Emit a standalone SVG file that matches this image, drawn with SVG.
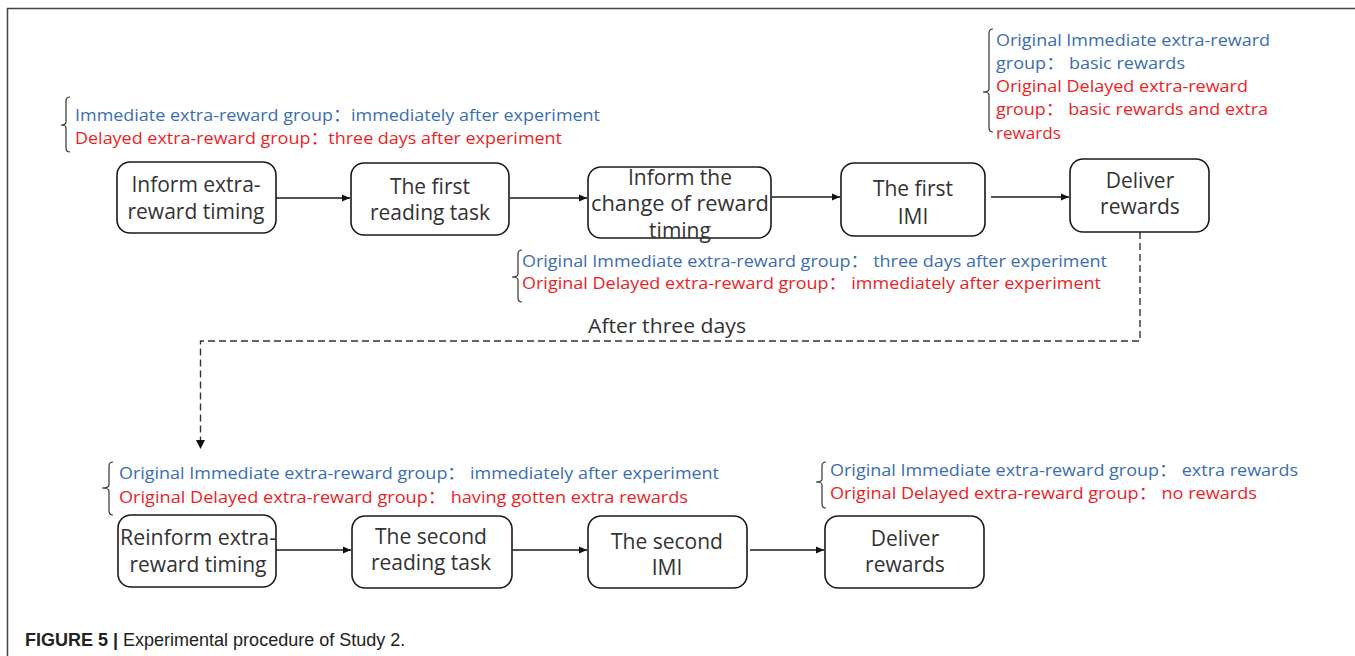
<svg xmlns="http://www.w3.org/2000/svg" width="1355" height="656" viewBox="0 0 1355 656">
<defs>
<marker id="ah" markerWidth="10" markerHeight="10" refX="9" refY="5" orient="auto" markerUnits="userSpaceOnUse">
<path d="M1,1.5 L9,5 L1,8.5 Z" fill="#111"/>
</marker>
<style>
.box{fill:#fff;stroke:#1a1a1a;stroke-width:1.6}
.bt{font-family:"Open Sans","Noto Sans",sans-serif;font-size:21px;fill:#333;text-anchor:middle}
.g{font-family:"Open Sans","Noto Sans","Noto Sans CJK SC",sans-serif;font-size:17px}
.bl{fill:#3a6db3}
.rd{fill:#ee1d25}
.br{fill:none;stroke:#333;stroke-width:1.2}
.ln{fill:none;stroke:#1a1a1a;stroke-width:1.4}
.dash{fill:none;stroke:#333;stroke-width:1.4;stroke-dasharray:7 4}
.cap{font-family:"Liberation Sans",Arial,sans-serif;font-size:18px;fill:#222}
</style>
</defs>
<rect width="1355" height="656" fill="#fff"/>
<path d="M7.5,656 V8.5 H1355" fill="none" stroke="#444" stroke-width="1.5"/>

<g id="connectors">
<line class="ln" x1="276" y1="198" x2="350" y2="198" marker-end="url(#ah)"/>
<line class="ln" x1="510" y1="198" x2="587" y2="198" marker-end="url(#ah)"/>
<line class="ln" x1="772" y1="197" x2="840" y2="197" marker-end="url(#ah)"/>
<line class="ln" x1="991" y1="197" x2="1069" y2="197" marker-end="url(#ah)"/>
<path class="dash" d="M1140,232 V341 H200.5 V440"/>
<path d="M196,440 L205,440 L200.5,449 Z" fill="#111"/>
<line class="ln" x1="276" y1="550" x2="351" y2="550" marker-end="url(#ah)"/>
<line class="ln" x1="512" y1="550" x2="587" y2="550" marker-end="url(#ah)"/>
<line class="ln" x1="750" y1="550" x2="824" y2="550" marker-end="url(#ah)"/>
</g>

<g id="note1">
<path class="br" d="M70,97 Q66,97 66,101 V122 Q66,125 61,125 Q66,125 66,128 V148 Q66,152 70,152"/>
<text class="g bl" x="75" y="121" textLength="525" lengthAdjust="spacingAndGlyphs">Immediate extra-reward group：immediately after experiment</text>
<text class="g rd" x="75" y="144" textLength="487" lengthAdjust="spacingAndGlyphs">Delayed extra-reward group：three days after experiment</text>
</g>

<g id="note2">
<path class="br" d="M993,29 Q989,29 989,33 V89 Q989,92 983,92 Q989,92 989,95 V128 Q989,132 993,132"/>
<text class="g bl" x="996" y="46" textLength="274" lengthAdjust="spacingAndGlyphs">Original Immediate extra-reward</text>
<text class="g bl" x="996" y="69" textLength="189" lengthAdjust="spacingAndGlyphs">group：  basic rewards</text>
<text class="g rd" x="996" y="92" textLength="252" lengthAdjust="spacingAndGlyphs">Original Delayed extra-reward</text>
<text class="g rd" x="996" y="115" textLength="272" lengthAdjust="spacingAndGlyphs">group：  basic rewards and extra</text>
<text class="g rd" x="996" y="139" textLength="65" lengthAdjust="spacingAndGlyphs">rewards</text>
</g>

<g id="note3">
<path class="br" d="M522,250 Q518,250 518,254 V274 Q518,277 512,277 Q518,277 518,280 V298 Q518,302 522,302"/>
<text class="g bl" x="522" y="267" textLength="585" lengthAdjust="spacingAndGlyphs">Original Immediate extra-reward group：  three days after experiment</text>
<text class="g rd" x="522" y="289" textLength="579" lengthAdjust="spacingAndGlyphs">Original Delayed extra-reward group：  immediately after experiment</text>
</g>

<text id="after-three-days" x="588" y="333" font-family="Open Sans, Noto Sans, sans-serif" font-size="20" fill="#333" textLength="158" lengthAdjust="spacingAndGlyphs">After three days</text>

<g id="note4">
<path class="br" d="M113,462 Q109,462 109,466 V485 Q109,488 102,488 Q109,488 109,491 V511 Q109,515 113,515"/>
<text class="g bl" x="119" y="479" textLength="600" lengthAdjust="spacingAndGlyphs">Original Immediate extra-reward group：  immediately after experiment</text>
<text class="g rd" x="119" y="503" textLength="569" lengthAdjust="spacingAndGlyphs">Original Delayed extra-reward group：  having gotten extra rewards</text>
</g>

<g id="note5">
<path class="br" d="M826,462 Q822,462 822,466 V479 Q822,482 816,482 Q822,482 822,485 V504 Q822,508 826,508"/>
<text class="g bl" x="830" y="476" textLength="468" lengthAdjust="spacingAndGlyphs">Original Immediate extra-reward group：  extra rewards</text>
<text class="g rd" x="830" y="499" textLength="427" lengthAdjust="spacingAndGlyphs">Original Delayed extra-reward group：  no rewards</text>
</g>

<g id="n1">
<rect class="box" x="117" y="162" width="159" height="71" rx="13"/>
<text class="bt" x="196" y="192">Inform extra-</text>
<text class="bt" x="196" y="219" textLength="137" lengthAdjust="spacingAndGlyphs">reward timing</text>
</g>
<g id="n2">
<rect class="box" x="351" y="163" width="158" height="72" rx="13"/>
<text class="bt" x="430" y="194">The first</text>
<text class="bt" x="430" y="220">reading task</text>
</g>
<g id="n3">
<rect class="box" x="588" y="167" width="183" height="71" rx="13"/>
<text class="bt" x="680" y="185">Inform the</text>
<text class="bt" x="680" y="211" textLength="178" lengthAdjust="spacingAndGlyphs">change of reward</text>
<text class="bt" x="680" y="238">timing</text>
</g>
<g id="n4">
<rect class="box" x="841" y="163" width="144" height="73" rx="13"/>
<text class="bt" x="913" y="196">The first</text>
<text class="bt" x="913" y="224">IMI</text>
</g>
<g id="n5">
<rect class="box" x="1070" y="159" width="139" height="73" rx="13"/>
<text class="bt" x="1140" y="188">Deliver</text>
<text class="bt" x="1140" y="214">rewards</text>
</g>
<g id="n6">
<rect class="box" x="118" y="515" width="158" height="72" rx="13"/>
<text class="bt" x="198" y="545" textLength="156" lengthAdjust="spacingAndGlyphs">Reinform extra-</text>
<text class="bt" x="198" y="572">reward timing</text>
</g>
<g id="n7">
<rect class="box" x="352" y="516" width="160" height="72" rx="13"/>
<text class="bt" x="431" y="544">The second</text>
<text class="bt" x="431" y="570">reading task</text>
</g>
<g id="n8">
<rect class="box" x="588" y="516" width="159" height="72" rx="13"/>
<text class="bt" x="667" y="549">The second</text>
<text class="bt" x="667" y="575">IMI</text>
</g>
<g id="n9">
<rect class="box" x="825" y="516" width="159" height="72" rx="13"/>
<text class="bt" x="905" y="546">Deliver</text>
<text class="bt" x="905" y="572">rewards</text>
</g>

<text class="cap" x="25" y="646"><tspan font-weight="bold">FIGURE 5 | </tspan>Experimental procedure of Study 2.</text>
</svg>
